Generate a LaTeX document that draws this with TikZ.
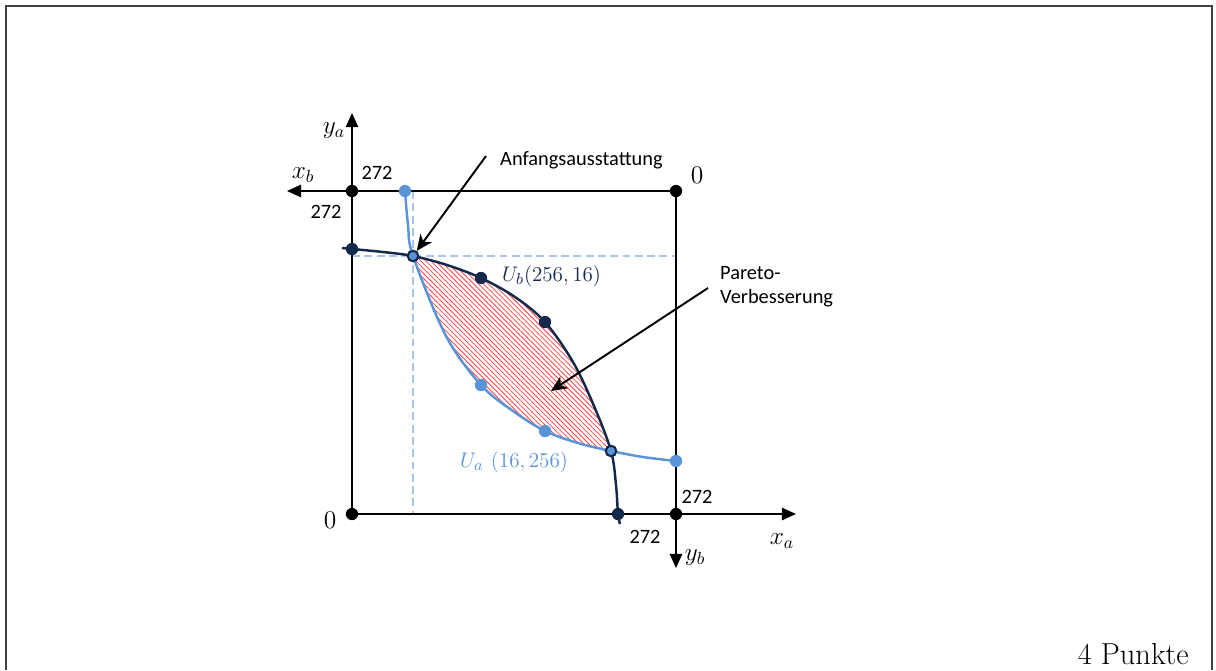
\documentclass[tikz,border=0pt]{standalone}
\usepackage{fontspec}
\newfontfamily\calibri{Carlito}
\usetikzlibrary{arrows.meta, patterns.meta, calc}
\definecolor{navy}{HTML}{13294B}
\definecolor{lblue}{HTML}{5B93D8}
\definecolor{dblue}{HTML}{A8C6EC}
\tikzset{
  axis/.style={line width=1.1pt, -{Triangle[length=8pt,width=7pt]}},
  pfeil/.style={line width=1.1pt, -{Stealth[length=9pt,width=8pt,inset=2.5pt]}},
  blackdot/.style={circle, fill=black, inner sep=0pt, minimum size=7pt},
  navydot/.style={circle, fill=navy, inner sep=0pt, minimum size=7pt},
  bluedot/.style={circle, fill=lblue, inner sep=0pt, minimum size=7pt},
  ring/.style={circle, draw=navy, line width=1.2pt, fill=lblue, inner sep=0pt, minimum size=6pt},
  helpline/.style={dblue, line width=0.8pt, dash pattern=on 4.5pt off 2.5pt}
}
\tikzset{
	numtext/.style={font=\calibri\fontsize{11.6}{13.5}\selectfont}
}
\tikzset{
	mathtext/.style={font=\fontsize{12.8}{14}\selectfont}
}
\tikzset{
	axtext/.style={font=\fontsize{14.5}{16}\selectfont}
}
\newcommand{\curveUb}{plot[smooth, tension=0.55] coordinates {(342,248) (352,249) (383,252) (413,256) (447,265) (481,278) (515,297) (545,322) (573,362) (594,406) (611,451) (616,485) (618,514) (620,524)}}
\newcommand{\curveUa}{plot[smooth, tension=0.55] coordinates {(405,191) (408,225) (413,256) (446,336) (481,385) (513,411) (545,431) (578,443) (611,451) (643,457) (676,461)}}

\begin{document}
\begin{tikzpicture}[x=0.02cm, y=-0.02cm]
  \useasboundingbox (0,0) rectangle (1216,670);
  \draw[black!75, line width=1.1pt] (6,670) -- (6,6) -- (1212,6) -- (1212,670);

  % origins and ends of the axes
  \coordinate (A0) at (352,514);
  \coordinate (B0) at (676,191);
  \coordinate (AY) at (352,191);
  \coordinate (AX) at (676,514);
  \coordinate (yaEnd) at (352,113);
  \coordinate (xaEnd) at (796,514);
  \coordinate (xbEnd) at (287,191);
  \coordinate (ybEnd) at (676,568);
  \coordinate (endow) at (413,256);
  \coordinate (cross) at (611,451);

  % help lines through the endowment
  \draw[helpline] (413,191) -- (413,514);
  \draw[helpline] (AY |- endow) -- (B0 |- endow);

  % pareto region
  \begin{scope}
    \clip \curveUb -- (340,524) -- cycle;
    \fill[pattern={Lines[angle=-45, distance=2pt, line width=0.45pt]}, pattern color=red!75]
      \curveUa -- (B0) -- cycle;
    \draw[red!80, line width=0.7pt] \curveUa;
  \end{scope}

  \draw[axis] (A0) -- (yaEnd);
  \draw[axis] (A0) -- (xaEnd);
  \draw[axis] (B0) -- (xbEnd);
  \draw[axis] (B0) -- (ybEnd);

  \draw[navy, line width=1.4pt] \curveUb;
  \draw[lblue, line width=1.4pt] \curveUa;

  \foreach \p in {A0, B0, AY, AX}
    \node[blackdot] at (\p) {};
  \foreach \n/\x/\y in {ubL/352/249, ubD/618/514, ub1/481/278, ub2/545/322}
    \node[navydot] (\n) at (\x,\y) {};
  \foreach \n/\x/\y in {uaT/405/191, uaR/676/461, ua1/481/385, ua2/545/431}
    \node[bluedot] (\n) at (\x,\y) {};
  \node[ring] (E) at (endow) {};
  \node[ring] (S) at (cross) {};

  % axis labels
  \node[axtext] (ya) at (334,131) {$y_a$};
  \node[axtext] (xb) at (303,175) {$x_b$};
  \node[axtext] (xa) at (782,541) {$x_a$};
  \node[axtext] (yb) at (695,558) {$y_b$};
  \node[numtext] (n1) at (377,173) {272};
  \node[numtext] (n2) at (326,212) {272};
  \node[numtext] (n3) at (697,497) {272};
  \node[numtext] (n4) at (645,537) {272};
  \node[axtext] (zB) at (697,175) {0};
  \node[axtext] (zA) at (330,520) {0};

  % curve labels
  \node[mathtext, text=navy, anchor=west] (Ub) at (496,276) {$U_b(256,16)$};
  \node[mathtext, text=lblue] (Ua) at (514,462) {$U_a\ (16,256)$};

  \node[numtext, anchor=west] (anf) at (494,160) {Anfangsausstattung};
  \coordinate (anfTail) at (486,156);
  \draw[pfeil] (anfTail) -- (E);

  \node[numtext, anchor=west, align=left] (par) at (714,287) {Pareto-\\Verbesserung};
  \coordinate (parTail) at (708,288);
  \coordinate (parHead) at (551,391);
  \draw[pfeil] (parTail) -- (parHead);

  \node[font=\fontsize{17.28}{20}\selectfont, anchor=base east] (pkt) at (1195,664) {4 Punkte};
\end{tikzpicture}
\end{document}
